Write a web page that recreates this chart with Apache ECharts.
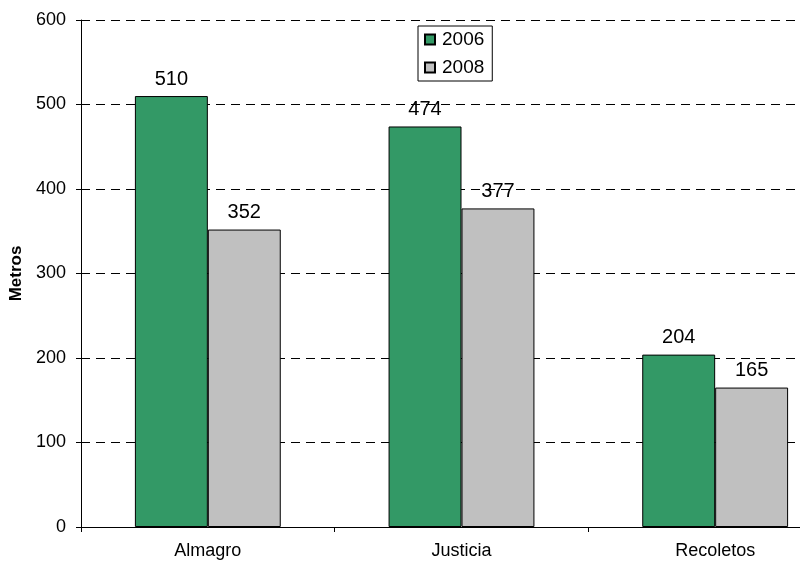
<!DOCTYPE html>
<html>
<head>
<meta charset="utf-8">
<script src="https://cdn.jsdelivr.net/npm/echarts@6/dist/echarts.min.js"></script>
<style>
  html, body { margin: 0; padding: 0; background: #fff; overflow: hidden; }
  /* el grafico original esta recortado por la derecha */
  #chart { width: 842px; height: 563px; }
</style>
</head>
<body>
<div id="chart"></div>
<script>
// datos
const categories = ["Almagro", "Justicia", "Recoletos"];
const values2006 = [510, 474, 204];
const values2008 = [352, 377, 165];
const seriesNames = ["2006", "2008"];

const chart = echarts.init(document.getElementById("chart"));

const barLabel = { show: true, position: "top", distance: 7, fontSize: 20, color: "#000" };

const option = {
  animation: false,
  textStyle: { fontFamily: "Liberation Sans, Arial, sans-serif", color: "#000" },
  grid: { left: 80, top: 20, width: 762, height: 507 },
  legend: {
    data: seriesNames,
    orient: "vertical",
    left: 418,
    top: 26,
    padding: [4, 8, 4, 6],
    itemGap: 9,
    itemWidth: 10,
    itemHeight: 10,
    backgroundColor: "#fff",
    borderColor: "#000",
    borderWidth: 1,
    icon: "rect",
    textStyle: { fontSize: 19, color: "#000", padding: [0, 0, 0, 2] },
  },
  xAxis: {
    type: "category",
    data: categories,
    axisLine: { lineStyle: { color: "#000" } },
    axisTick: { show: true, length: 5, lineStyle: { color: "#000" } },
    axisLabel: { fontSize: 18, color: "#000", margin: 15 },
  },
  yAxis: {
    type: "value",
    min: 0,
    max: 600,
    interval: 100,
    name: "Metros",
    nameLocation: "middle",
    nameGap: 56,
    nameTextStyle: { fontSize: 17, fontWeight: "bold", color: "#000" },
    axisLine: { show: true, lineStyle: { color: "#000" } },
    axisTick: { show: true, length: 5, lineStyle: { color: "#000" } },
    axisLabel: { fontSize: 18, color: "#000", margin: 15 },
    splitLine: {
      show: true,
      lineStyle: { color: "#000", type: [9, 6], width: 1 },
    },
  },
  series: [
    {
      name: seriesNames[0],
      type: "bar",
      data: values2006,
      barGap: "0%",
      barCategoryGap: "42.5%",
      itemStyle: { color: "#339966", borderColor: "#000", borderWidth: 1 },
      label: barLabel,
    },
    {
      name: seriesNames[1],
      type: "bar",
      data: values2008,
      barGap: "0%",
      barCategoryGap: "42.5%",
      itemStyle: { color: "#c0c0c0", borderColor: "#000", borderWidth: 1 },
      label: barLabel,
    },
  ],
};

chart.setOption(option);
</script>
</body>
</html>
